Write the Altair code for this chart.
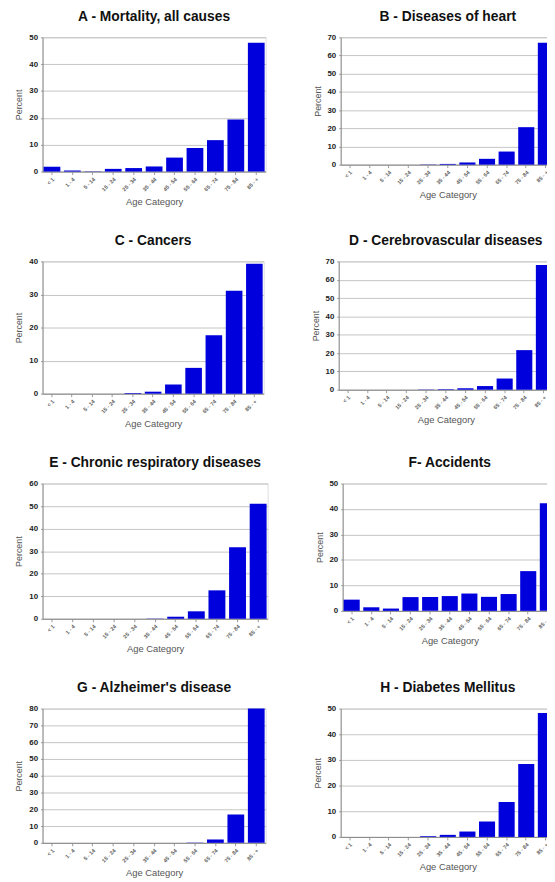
import altair as alt
import pandas as pd

categories = ["< 1", "1 - 4", "5 - 14", "15 - 24", "25 - 34", "35 - 44",
              "45 - 54", "55 - 64", "65 - 74", "75 - 84", "85 - +"]

mortality = [1.8, 0.4, 0.1, 1.0, 1.3, 1.9, 5.2, 8.8, 11.7, 19.4, 48.0]
heart = [0.0, 0.0, 0.0, 0.0, 0.1, 0.4, 1.2, 3.2, 7.2, 20.6, 67.0]
cancers = [0.0, 0.0, 0.0, 0.0, 0.2, 0.6, 2.8, 7.8, 17.7, 31.1, 39.3]
cerebro = [0.0, 0.0, 0.0, 0.0, 0.1, 0.3, 0.8, 2.0, 6.1, 21.6, 68.0]
respiratory = [0.0, 0.0, 0.0, 0.0, 0.0, 0.1, 0.9, 3.3, 12.6, 31.7, 51.0]
accidents = [4.4, 1.4, 0.9, 5.4, 5.4, 5.8, 6.8, 5.5, 6.6, 15.6, 42.2]
alzheimer = [0.0, 0.0, 0.0, 0.0, 0.0, 0.0, 0.0, 0.2, 2.0, 16.9, 80.0]
diabetes = [0.0, 0.0, 0.0, 0.0, 0.3, 0.8, 2.1, 6.0, 13.6, 28.4, 48.3]

titles = ["A - Mortality, all causes", "B - Diseases of heart", "C - Cancers",
          "D - Cerebrovascular diseases", "E -  Chronic respiratory diseases",
          "F- Accidents", "G - Alzheimer's disease", "H - Diabetes Mellitus"]
series = [mortality, heart, cancers, cerebro, respiratory, accidents, alzheimer, diabetes]
ymax = [50, 70, 40, 70, 60, 50, 80, 50]
widths = [226, 217, 224, 217, 228, 217, 226, 217]
heights = [136, 129, 134, 130, 137, 129, 136, 130]

FONT = "Liberation Sans"


def panel(i):
    df = pd.DataFrame({"cat": categories, "val": series[i]})
    return alt.Chart(df, title=alt.Title(titles[i], fontSize=14, fontWeight="bold",
                                         font=FONT, color="#111", offset=10)).mark_bar(
        color="#0000dc"
    ).encode(
        x=alt.X("cat:N", sort=categories,
                scale=alt.Scale(paddingInner=0.18, paddingOuter=0.05),
                axis=alt.Axis(title="Age Category", labelAngle=-45, labelFontSize=5.5,
                              labelFontWeight="bold",
                              labelColor="#666", labelFont=FONT, titleFont=FONT,
                              titleFontSize=9.5, titleFontWeight="normal", titleColor="#555",
                              titlePadding=4, tickSize=3, tickColor="#999",
                              domainColor="#888", labelPadding=2)),
        y=alt.Y("val:Q", scale=alt.Scale(domain=[0, ymax[i]], nice=False),
                axis=alt.Axis(title="Percent", values=list(range(0, ymax[i] + 1, 10)),
                              labelFontSize=8, labelFontWeight="bold", labelColor="#222",
                              labelFont=FONT, titleFont=FONT, titleFontSize=9,
                              titleFontWeight="normal", titleColor="#555", titlePadding=5,
                              tickSize=2, tickColor="#999", domainColor="#888",
                              gridColor="#b5b5b5", gridWidth=0.8, labelPadding=3)),
    ).properties(width=widths[i], height=heights[i])


rows = []
for r in range(4):
    rows.append(alt.hconcat(panel(2 * r), panel(2 * r + 1), spacing=46))

chart = alt.vconcat(*rows, spacing=27).properties(
    padding={"left": 6, "top": -5, "right": -11, "bottom": 0}
).configure_view(
    stroke="#c8c8c8", strokeWidth=0.8
).configure(background="white")

chart.save("out.html", embed_options={"renderer": "svg", "actions": False})
